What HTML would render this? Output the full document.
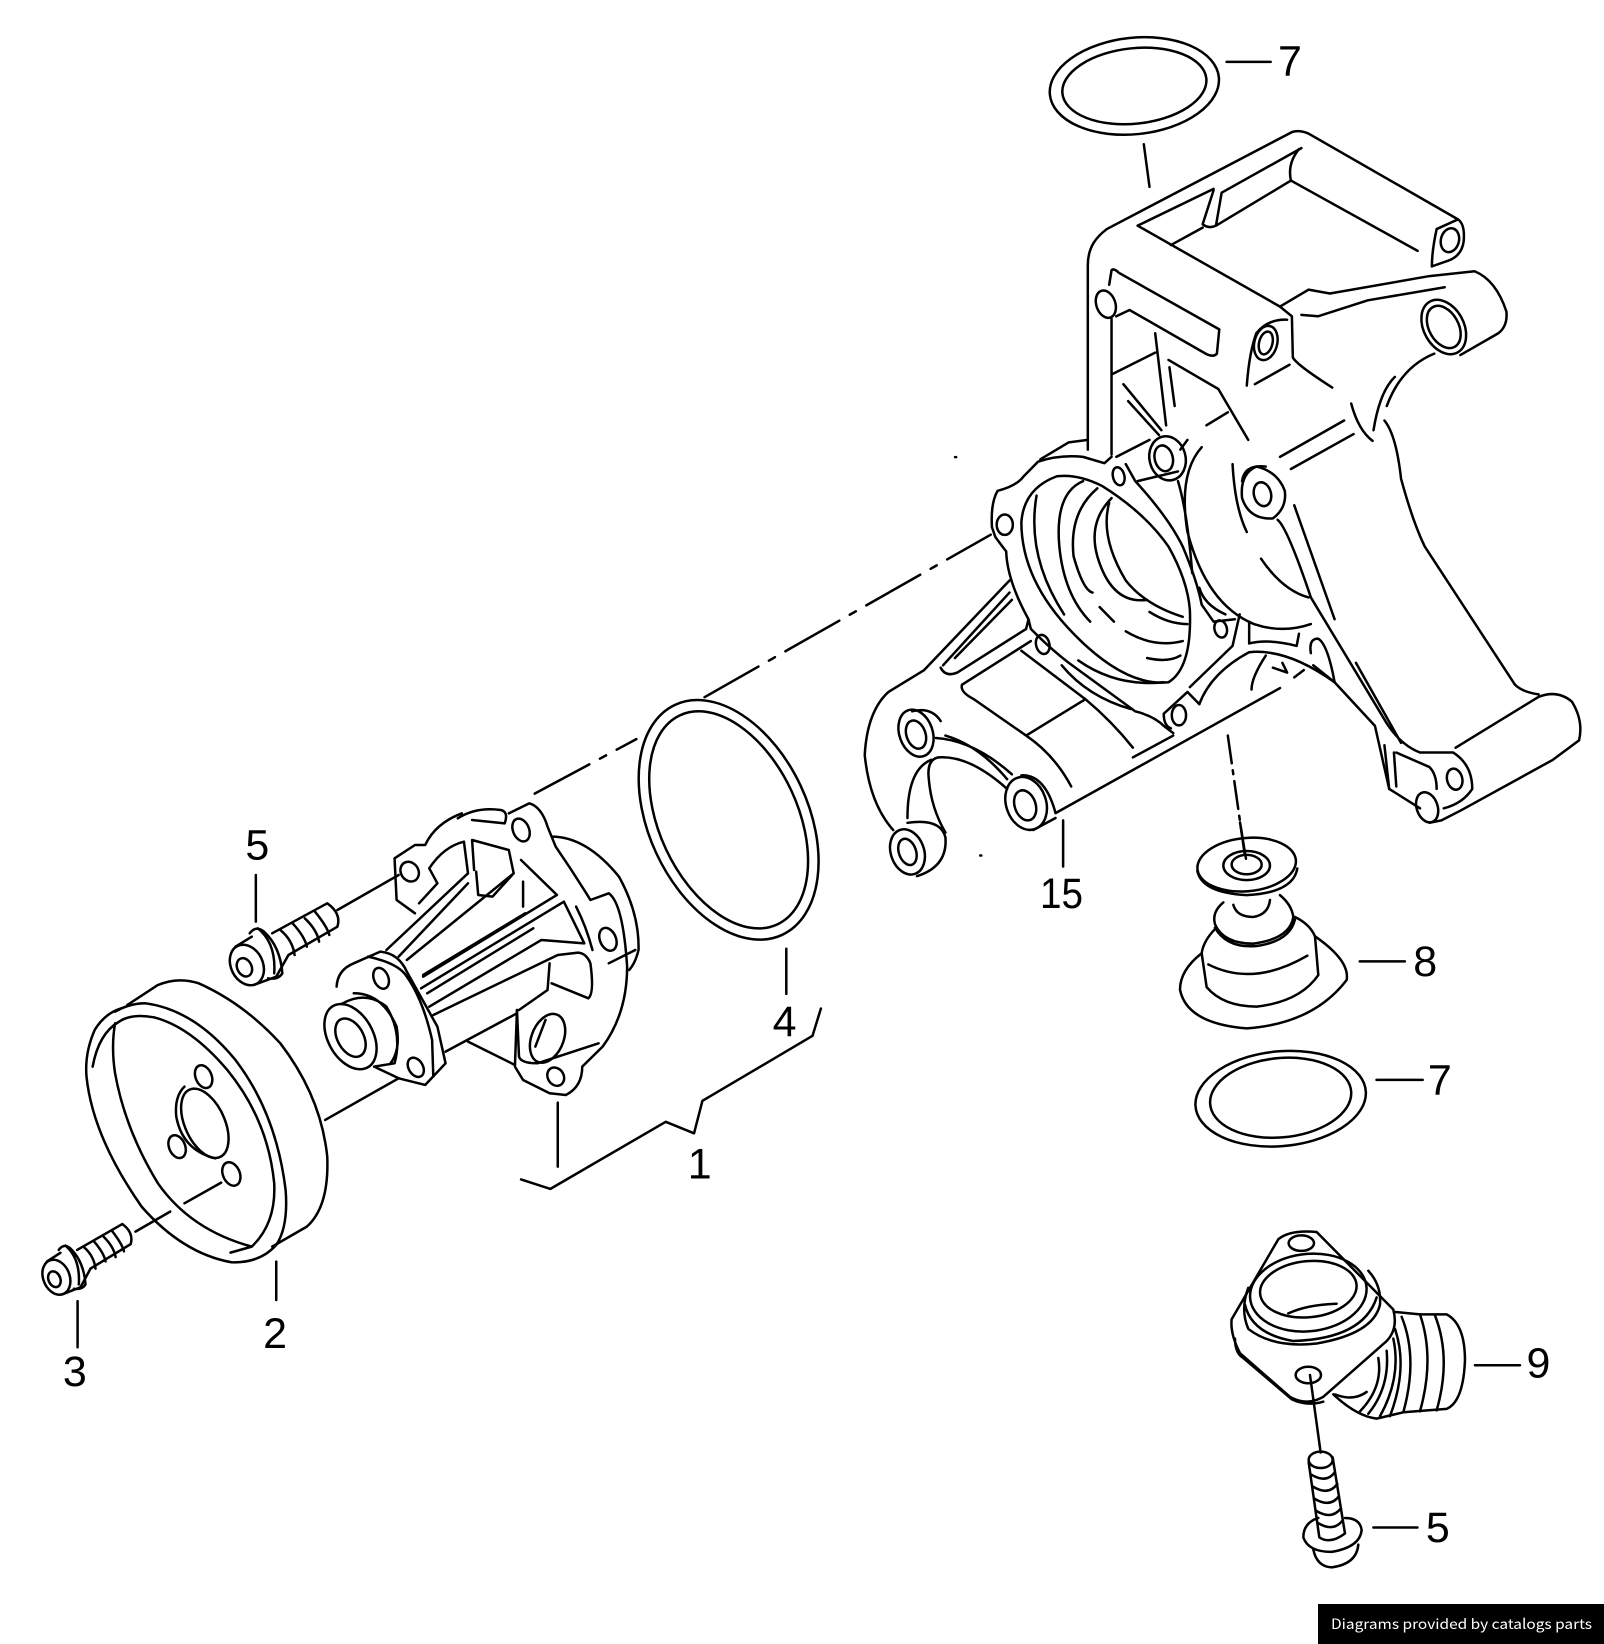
<!DOCTYPE html>
<html><head><meta charset="utf-8"><style>
html,body{margin:0;padding:0;background:#fff;width:1604px;height:1644px;overflow:hidden}
svg{display:block}
path,ellipse,line{fill:none;stroke:#000;stroke-linecap:round;stroke-linejoin:round;vector-effect:non-scaling-stroke;stroke-width:2.5px}
text{font-family:"Liberation Sans",sans-serif;font-size:41px;fill:#000}
</style></head><body>
<svg width="1604" height="1644" viewBox="0 0 1604 1644" xmlns="http://www.w3.org/2000/svg">
<rect width="1604" height="1644" fill="#fff"/>

<!-- bracket -->
<g transform="translate(860,120) scale(.4746,.4847)">
<path d="M480,680V300C480,260 500,240 520,225L910,25Q925,20 945,28L1260,205Q1275,215 1272,250Q1268,280 1240,290L1205,302"/>
<path d="M585,218L745,142M762,150L930,58M745,145L722,215Q735,225 750,218L762,150M925,60Q900,90 908,125L1175,270M908,125L750,218M722,222L655,258M585,218L885,385L910,405L912,490Q920,505 995,552"/>
<path d="M885,385L945,350L990,358L1200,322L1295,312Q1340,330 1362,395Q1365,425 1345,440L1265,485M930,402L965,405L1070,372L1232,345M1205,302Q1205,270 1215,225L1260,205"/>
<ellipse cx="1230" cy="427" rx="42" ry="60" transform="rotate(-30 1230 427)"/><ellipse cx="1230" cy="427" rx="31" ry="47" transform="rotate(-30 1230 427)"/>
<ellipse cx="1243" cy="248" rx="19" ry="25" transform="rotate(15 1243 248)"/>
<path d="M1210,482Q1140,510 1110,590M1127,530Q1095,560 1082,640M1035,585Q1050,640 1080,662M1105,620Q1130,650 1140,740Q1165,830 1190,880L1380,1165Q1395,1180 1430,1185M1020,620L885,695M1040,648L908,720M730,630L775,603"/>
<path d="M650,495L755,555L818,660M652,510L663,590M622,440L645,630M555,545L635,640M565,580L630,650M530,525L622,480M530,410V690"/>
<ellipse cx="518" cy="380" rx="20" ry="29" transform="rotate(-20 518 380)"/>
<path d="M525,340L530,310Q535,305 545,315L757,432L752,482Q745,490 730,483L568,392L540,405"/>
<ellipse cx="855" cy="460" rx="24" ry="36" transform="rotate(15 855 460)"/><ellipse cx="855" cy="460" rx="14" ry="24" transform="rotate(15 855 460)"/>
<path d="M815,548Q820,480 835,440Q860,410 900,412M832,545L905,505"/>

<path d="M530,695L515,708L470,695Q420,690 375,705L345,735Q330,755 290,765Q275,790 278,840L285,860Q300,880 308,890Q310,950 355,1030L360,1050Q400,1090 440,1120L580,1220Q620,1230 640,1250L660,1265"/>
<path d="M380,700L440,665L480,660M560,710L580,745Q650,820 680,880Q710,950 720,1000L745,1035L790,1030"/>
<path d="M415,735Q460,730 510,755Q600,810 650,880Q690,950 695,1010Q700,1130 650,1160Q560,1170 450,1060Q340,950 340,830Q345,760 415,735"/>
<path d="M372,775Q350,900 430,1020M470,745Q410,770 420,880Q430,980 485,1035M500,760Q440,810 450,900Q470,970 490,975M530,780Q480,830 500,900Q530,1000 605,990M525,790Q505,860 560,950Q600,1000 680,1025M505,1005L535,1035M560,1055Q620,1090 680,1075M610,1015Q650,1040 690,1040M605,1110Q650,1120 675,1105M460,1115Q540,1170 640,1160"/>
<path d="M720,675Q670,730 690,850Q730,1000 830,1040Q890,1060 950,1040M670,745Q690,810 700,935M715,965Q725,1000 770,1020M785,710Q790,800 815,850M805,745Q810,710 855,715M845,905Q890,970 945,985"/>
<ellipse cx="305" cy="835" rx="17" ry="21"/><ellipse cx="545" cy="735" rx="12" ry="19" transform="rotate(-15 545 735)"/><ellipse cx="385" cy="1082" rx="14" ry="20" transform="rotate(-15 385 1082)"/><ellipse cx="672" cy="1228" rx="15" ry="21"/><ellipse cx="760" cy="1050" rx="13" ry="18" transform="rotate(-15 760 1050)"/>
<ellipse cx="648" cy="698" rx="38" ry="46" transform="rotate(-15 648 698)"/><ellipse cx="640" cy="698" rx="19" ry="27" transform="rotate(-15 640 698)"/>
<path d="M540,695L610,660M585,745L670,725M690,660L675,680"/>
<path d="M835,715Q800,730 805,780Q820,825 870,822Q900,800 895,765Q880,725 835,715"/><ellipse cx="848" cy="772" rx="18" ry="25" transform="rotate(-15 848 772)"/>

<path d="M315,950L135,1135L60,1180Q15,1220 10,1310Q20,1410 70,1465"/>
<ellipse cx="100" cy="1510" rx="35" ry="48" transform="rotate(-20 100 1510)"/><ellipse cx="100" cy="1510" rx="18" ry="28" transform="rotate(-20 100 1510)"/>
<path d="M100,1450Q170,1440 180,1480Q185,1540 120,1560M180,1470Q150,1420 145,1360Q140,1320 165,1315Q230,1310 310,1380"/>
<ellipse cx="118" cy="1265" rx="35" ry="50" transform="rotate(-20 118 1265)"/><ellipse cx="118" cy="1268" rx="20" ry="30" transform="rotate(-20 118 1268)"/>
<path d="M110,1220Q150,1210 170,1240M160,1275Q240,1280 320,1350M150,1320Q100,1340 100,1440M180,1270Q250,1290 310,1360"/>
<ellipse cx="350" cy="1410" rx="42" ry="56" transform="rotate(-20 350 1410)"/><ellipse cx="348" cy="1414" rx="22" ry="32" transform="rotate(-20 348 1414)"/>
<path d="M340,1352Q390,1350 412,1430L885,1172M715,1205Q740,1140 820,1098Q900,1090 1000,1160L1085,1250L1115,1380L1180,1420M412,1440L365,1465"/>
<path d="M350,1270Q410,1310 445,1375M215,1165Q210,1180 240,1195L350,1270L475,1195M215,1165L360,1075M340,1095L475,1195Q530,1240 575,1295M170,1130Q180,1150 205,1140L350,1050L355,1030M175,1125L315,975M200,1110L320,990M425,1125Q480,1190 570,1215M575,1315L660,1270M640,1225L690,1180L715,1205M640,1225Q640,1250 655,1255M695,1170L785,1085L800,1020"/>
<path d="M880,825Q900,840 950,985L1110,1245Q1140,1290 1180,1305L1250,1305Q1290,1330 1290,1380Q1270,1410 1230,1420M915,795L1000,1030M1045,1120L1140,1285M1125,1305L1130,1375M1130,1305L1200,1335Q1215,1350 1215,1380M1255,1295L1430,1190Q1470,1175 1500,1200Q1525,1240 1515,1280L1460,1320L1265,1425L1225,1445L1200,1450M1115,1380L1105,1290"/>
<ellipse cx="1253" cy="1360" rx="16" ry="22" transform="rotate(-15 1253 1360)"/><ellipse cx="1195" cy="1418" rx="22" ry="32" transform="rotate(-20 1195 1418)"/>
<path d="M820,1035L820,1080Q860,1070 920,1085L925,1060M855,1105Q825,1150 825,1175M870,1130L900,1140M890,1120L900,1140M915,1150L935,1135M950,1100Q945,1070 965,1070Q985,1080 1000,1160M955,1125L1000,1160"/>
<path d="M428,1445V1540M598,50L610,138"/>
<path d="M775,1270L812,1525" stroke-dasharray="28 7 4 7"/>
</g>

<!-- pump and pulley -->
<g transform="translate(60,780) scale(.408,.3333)">
<path d="M150,685Q110,700 85,750Q60,820 65,890Q80,1070 200,1280Q300,1420 420,1447Q490,1450 530,1395Q560,1340 553,1230Q530,1000 430,840Q330,690 210,670Q170,670 135,695"/>
<path d="M80,860Q95,760 145,725Q175,700 230,712Q320,740 410,870Q510,1020 525,1210Q530,1330 470,1400L418,1418M135,730Q125,800 135,880Q160,1050 240,1210Q320,1350 470,1400"/>
<path d="M165,675L240,615Q290,590 340,610Q450,670 540,790Q640,950 655,1130Q660,1280 605,1340L520,1400"/>
<ellipse cx="355" cy="1030" rx="50" ry="108" transform="rotate(-18 355 1030)"/>
<path d="M305,920Q280,950 285,1010Q300,1110 380,1135"/>
<ellipse cx="352" cy="890" rx="20" ry="35" transform="rotate(-15 352 890)"/><ellipse cx="287" cy="1100" rx="20" ry="35" transform="rotate(-15 287 1100)"/><ellipse cx="420" cy="1182" rx="21" ry="36" transform="rotate(-15 420 1182)"/>
<path d="M395,1208L305,1270M270,1295L185,1355M650,1020L830,895M945,815L1120,700M1000,785L1115,855M530,1445V1560M680,390L830,285M480,285V425M1220,968V1160"/>

<ellipse cx="712" cy="770" rx="57" ry="102" transform="rotate(-20 712 770)"/><ellipse cx="712" cy="773" rx="33" ry="60" transform="rotate(-20 712 773)"/>
<path d="M690,672Q750,630 800,680Q840,760 820,850L770,860M720,640Q790,640 825,740Q835,810 810,850"/>
<path d="M678,620Q680,570 720,550L785,515Q830,520 850,575L925,740L945,850L895,915L830,895L770,860M755,530Q830,550 850,590Q890,660 912,780L915,890"/>
<ellipse cx="787" cy="595" rx="18" ry="32" transform="rotate(-15 787 595)"/><ellipse cx="872" cy="862" rx="18" ry="30" transform="rotate(-20 872 862)"/>
<path d="M975,115Q1020,80 1080,90Q1100,95 1090,130L1010,120M870,400L825,360L820,235L870,195L895,195Q920,130 985,100M800,510L1000,280L990,185Q940,200 905,265L925,310L880,370M830,530L1000,310"/>
<ellipse cx="857" cy="275" rx="22" ry="30" transform="rotate(-15 857 275)"/>
<path d="M1100,100L1150,70Q1180,80 1195,140L1215,200Q1260,280 1300,360L1345,340Q1380,370 1390,560Q1390,700 1330,800L1280,860Q1280,920 1240,945L1200,940L1135,900L1115,860L1120,690"/>
<ellipse cx="1130" cy="150" rx="20" ry="35" transform="rotate(-15 1130 150)"/><ellipse cx="1343" cy="478" rx="20" ry="35" transform="rotate(-15 1343 478)"/>
<path d="M1205,170Q1290,170 1370,290Q1420,400 1418,510Q1410,550 1395,570"/>
<path d="M1010,180L1100,210L1112,280L1060,350L1025,345L1020,275M1010,180L1015,270M1130,240L1218,345L890,590M1135,305V380M1140,400L890,585M1235,365L885,625M1160,445L900,640M1180,480L905,680M1180,480L1285,490L1235,365M1270,518L1220,525L915,705M1200,550L1195,630L1125,690M1205,610L1295,655Q1310,640 1300,550Q1290,520 1270,518M1265,380Q1290,440 1305,510M1112,280L850,540M1345,550L1410,510"/>
<ellipse cx="1195" cy="775" rx="40" ry="75" transform="rotate(15 1195 775)"/>
<path d="M1120,690L1125,830Q1130,850 1170,850L1320,790M1190,720L1165,800"/>
<ellipse cx="1215" cy="890" rx="20" ry="28" transform="rotate(-15 1215 890)"/>

<!-- bolt 5 -->
<path d="M520,460L655,370Q690,400 680,440L560,525M560,525L530,590M540,450Q570,480 575,525M570,430Q600,470 605,500M600,415Q630,450 635,485M625,395Q655,440 660,465"/>
<ellipse cx="458" cy="555" rx="40" ry="62" transform="rotate(-15 458 555)"/><ellipse cx="452" cy="562" rx="18" ry="28" transform="rotate(-15 452 562)"/>
<path d="M465,460Q480,435 500,455Q540,500 545,580Q535,600 510,595M485,445Q530,490 525,580M430,500L470,470M475,615L530,590"/>
</g>

<!-- bolt 3 -->
<g transform="translate(-96.8,1117.7) scale(.3345,.2874)">
<path d="M520,460L655,370Q690,400 680,440L560,525M560,525L530,590M540,450Q570,480 575,525M570,430Q600,470 605,500M600,415Q630,450 635,485M625,395Q655,440 660,465"/>
<ellipse cx="458" cy="555" rx="40" ry="62" transform="rotate(-15 458 555)"/><ellipse cx="452" cy="562" rx="18" ry="28" transform="rotate(-15 452 562)"/>
<path d="M465,460Q480,435 500,455Q540,500 545,580Q535,600 510,595M485,445Q530,490 525,580M430,500L470,470M475,615L530,590"/>
</g>

<!-- thermostat, ring, elbow, bolt -->
<g transform="translate(1160,820) scale(.3333,.4847)">
<path d="M240,5L258,80M945,1125H1080"/>
<ellipse cx="260" cy="92" rx="148" ry="55" transform="rotate(-3 260 92)"/>
<path d="M112,105Q125,150 260,155Q400,150 412,100"/>
<ellipse cx="260" cy="94" rx="70" ry="30"/><ellipse cx="260" cy="92" rx="45" ry="20"/>
<path d="M220,175Q230,200 280,200Q325,195 330,165M190,170Q155,190 165,215Q190,255 280,255Q390,245 400,200Q395,175 360,155M165,222Q200,265 290,260Q390,250 405,205"/>
<path d="M165,225Q130,250 125,275L140,345Q190,385 290,385Q420,375 475,320L465,240Q450,215 405,200M145,298Q280,345 442,280"/>
<path d="M125,275Q60,310 60,350Q80,420 260,430Q460,420 560,330Q570,290 465,240"/>
<ellipse cx="362" cy="575" rx="256" ry="98" transform="rotate(-3 362 575)"/><ellipse cx="362" cy="573" rx="212" ry="82" transform="rotate(-3 362 573)"/>

<path d="M215,1030L355,865Q390,845 470,850L700,1010Q715,1050 680,1075L490,1190Q440,1210 390,1190L240,1100Q210,1060 215,1030M225,1070Q225,1100 250,1110L395,1195Q440,1210 490,1200"/>
<ellipse cx="424" cy="873" rx="38" ry="16"/><ellipse cx="445" cy="1145" rx="38" ry="17"/>
<ellipse cx="445" cy="975" rx="175" ry="80" transform="rotate(-3 445 975)"/><ellipse cx="445" cy="968" rx="145" ry="58" transform="rotate(-3 445 968)"/>
<path d="M385,1018Q440,1000 530,998M265,965Q240,1010 265,1050Q340,1090 470,1080Q640,1060 660,1000Q665,960 625,930M255,1000Q275,1060 400,1075Q610,1070 650,985"/>
<path d="M705,1015L780,1020H860Q915,1040 915,1115Q910,1200 860,1215L730,1222L650,1235Q590,1230 520,1185"/>
<path d="M725,1025Q775,1110 730,1222M780,1020Q825,1110 780,1220M825,1022Q875,1110 830,1218M705,1050Q745,1130 690,1230M700,1070Q725,1150 660,1230M680,1095Q690,1170 625,1225M655,1110Q670,1170 600,1220M525,1185Q580,1200 620,1180"/>
<path d="M450,1145L482,1305"/>
<ellipse cx="482" cy="1320" rx="36" ry="17"/>
<path d="M446,1325L478,1480Q510,1495 555,1472L518,1315M452,1350Q500,1370 525,1345M458,1375Q505,1395 532,1370M463,1400Q510,1420 537,1395M468,1425Q515,1445 543,1420M473,1450Q520,1470 548,1445"/>
<path d="M475,1440Q430,1450 430,1480Q445,1510 515,1510Q600,1500 605,1465Q600,1440 555,1440M460,1505Q470,1540 515,1542Q590,1535 595,1495"/>
</g>

<!-- rings, dash-dot, leaders (scaled) -->
<g transform="scale(1.0484)">
<ellipse cx="1082" cy="82" rx="81" ry="46" transform="rotate(-6 1082 82)"/><ellipse cx="1082" cy="82" rx="69" ry="36" transform="rotate(-6 1082 82)"/>
<ellipse cx="695" cy="782" rx="76" ry="121" transform="rotate(-25 695 782)"/><ellipse cx="695" cy="782" rx="66" ry="110" transform="rotate(-25 695 782)"/>
<path d="M510,757L607,705M672,665L945,510" stroke-dasharray="62 12 7 12"/>
<path d="M1170,59H1212M1297,917H1340M1313,1030H1357M750,905V948M1310,1457H1352M74,1241V1285"/>
<path d="M497,1125L525,1134L635,1070L662,1081L670,1050L775,988L783,962"/>
<path d="M911,436h1M935,816h1"/>
</g>
<g transform="scale(1.0484)">
<text x="1219" y="72">7</text>
<text x="992" y="866" textLength="41" lengthAdjust="spacingAndGlyphs">15</text>
<text x="1348" y="931">8</text>
<text x="1362" y="1044">7</text>
<text x="737" y="988">4</text>
<text x="656" y="1124">1</text>
<text x="234" y="820">5</text>
<text x="251" y="1286">2</text>
<text x="60" y="1322">3</text>
<text x="1456" y="1314">9</text>
<text x="1360" y="1471">5</text>
</g>

<rect x="1318" y="1604" width="286" height="40" fill="#000"/>
<text x="1331" y="1629" style="font-family:'Noto Sans CJK SC',sans-serif;font-size:14px;fill:#fff" textLength="261" lengthAdjust="spacingAndGlyphs">Diagrams provided by catalogs parts</text>
</svg>
</body></html>
